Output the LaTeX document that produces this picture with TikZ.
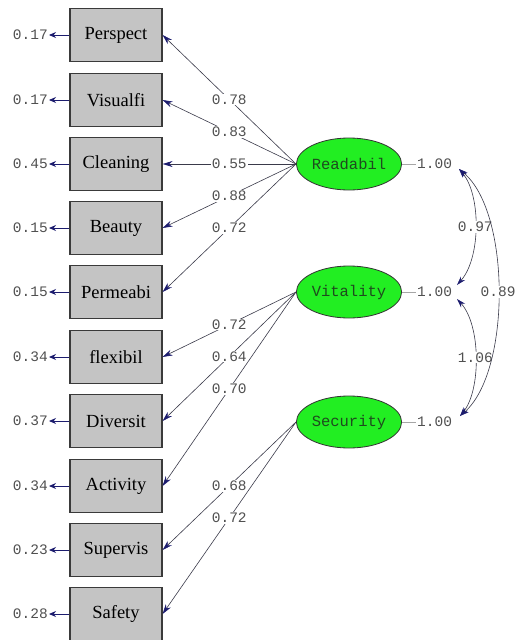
\documentclass[tikz,border=0pt]{standalone}
\usepackage{fontspec}
\setmainfont{Liberation Serif}
\setmonofont{Liberation Mono}
\usetikzlibrary{arrows.meta,shapes.geometric}
\definecolor{boxfill}{HTML}{C4C4C4}
\definecolor{boxline}{HTML}{3A3A3A}
\definecolor{latfill}{HTML}{22EE22}
\definecolor{lattext}{HTML}{1E4A1E}
\definecolor{tipcol}{HTML}{1C1C6E}
\definecolor{linecol}{HTML}{3A3A4A}
\definecolor{numcol}{HTML}{505050}
\tikzset{
  obs/.style={draw=boxline, line width=1.2pt, fill=boxfill, minimum width=92pt, minimum height=53pt, inner sep=0pt,
    font=\fontsize{18.5}{19}\selectfont},
  lat/.style={ellipse, draw=black!80, line width=0.8pt, fill=latfill, minimum width=93pt, minimum height=52pt, inner sep=0pt,
    font=\ttfamily\fontsize{15.5}{16}\selectfont, text=lattext},
  num/.style={font=\ttfamily\fontsize{14.5}{15}\selectfont, text=numcol, inner sep=1pt},
  lbl/.style={num, fill=white, midway},
  load/.style={draw=linecol, line width=0.6pt, -{Stealth[length=10pt,width=6pt,color=tipcol]}},
  err/.style={draw=tipcol, line width=0.9pt, -{Stealth[length=7pt,width=6pt,color=tipcol]}},
  cov/.style={draw=linecol, line width=0.6pt, {Stealth[length=9pt,width=5.5pt,color=tipcol]}-{Stealth[length=9pt,width=5.5pt,color=tipcol]}},
  var/.style={draw=black!35, line width=0.5pt}
}
\begin{document}
\begin{tikzpicture}[x=1pt,y=-1pt]
\useasboundingbox (0,0) rectangle (517,640);
% observed variables
\foreach \n/\t/\y/\e in {p1/Perspect/35/0.17, p2/Visualfi/100/0.17, p3/Cleaning/164/0.45, p4/Beauty/228/0.15,
  p5/Permeabi/292/0.15, p6/flexibil/357/0.34, p7/Diversit/421/0.37, p8/Activity/486/0.34,
  p9/Supervis/550/0.23, p10/Safety/614/0.28}{
  \node[obs] (\n) at (116,\y) {\t};
  \node[num, anchor=east] (e\n) at (49,\y) {\e};
  \draw[err] (\n.west) -- (e\n.east);
}
% latent variables
\node[lat] (R) at (349,164) {Readabil};
\node[lat] (V) at (349,292) {Vitality};
\node[lat] (S) at (349,422) {Security};
\node[num, anchor=west] (vR) at (416,164) {1.00};
\node[num, anchor=west] (vV) at (416,292) {1.00};
\node[num, anchor=west] (vS) at (416,422) {1.00};
\draw[var] (R.east) -- (vR.west);
\draw[var] (V.east) -- (vV.west);
\draw[var] (S.east) -- (vS.west);
% loadings
\draw[load] (R.west) -- node[lbl]{0.78} (p1.east);
\draw[load] (R.west) -- node[lbl]{0.83} (p2.east);
\draw[load] (R.west) -- node[lbl]{0.55} (p3.east);
\draw[load] (R.west) -- node[lbl]{0.88} (p4.east);
\draw[load] (R.west) -- node[lbl]{0.72} (p5.east);
\draw[load] (V.west) -- node[lbl]{0.72} (p6.east);
\draw[load] (V.west) -- node[lbl]{0.64} (p7.east);
\draw[load] (V.west) -- node[lbl]{0.70} (p8.east);
\draw[load] (S.west) -- node[lbl]{0.68} (p9.east);
\draw[load] (S.west) -- node[lbl]{0.72} (p10.east);
% covariances
\coordinate (cR) at (459,169);
\coordinate (cV1) at (457,285);
\coordinate (cV2) at (457,299);
\coordinate (cS) at (460,416);
\draw[cov] (cR) .. controls (481,195) and (481,258) .. node[num, fill=white, pos=0.5]{0.97} (cV1);
\draw[cov] (cV2) .. controls (481,325) and (481,390) .. node[num, fill=white, pos=0.5]{1.06} (cS);
\draw[cov] (cR) .. controls (511,212) and (511,372) .. node[num, fill=white, pos=0.5]{0.89} (cS);
\end{tikzpicture}
\end{document}
